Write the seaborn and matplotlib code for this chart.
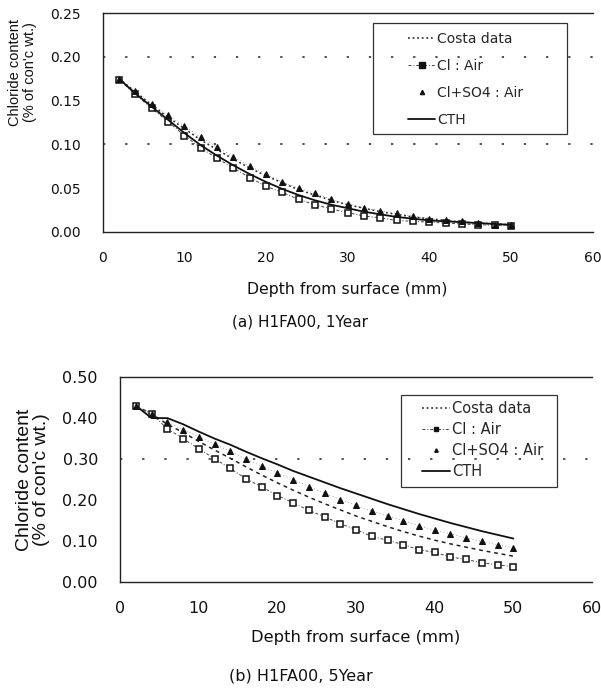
import matplotlib
matplotlib.use("Agg")
import matplotlib.pyplot as plt
from matplotlib.lines import Line2D
from matplotlib.patches import Rectangle
import seaborn as sns

# ---- data ----
depth = [2, 4, 6, 8, 10, 12, 14, 16, 18, 20, 22, 24, 26, 28, 30, 32, 34, 36, 38, 40, 42, 44, 46, 48, 50]

# (a) 1 year
costa_1y = [0.175, 0.160, 0.145, 0.131, 0.118, 0.105, 0.094, 0.083, 0.073, 0.064, 0.056, 0.048, 0.042,
            0.036, 0.031, 0.027, 0.023, 0.020, 0.017, 0.015, 0.013, 0.011, 0.010, 0.009, 0.008]
cl_air_1y = [0.174, 0.157, 0.141, 0.126, 0.110, 0.096, 0.084, 0.073, 0.062, 0.052, 0.045, 0.037, 0.031,
             0.026, 0.022, 0.018, 0.016, 0.013, 0.012, 0.011, 0.010, 0.009, 0.008, 0.0076, 0.007]
clso4_air_1y = [0.175, 0.161, 0.146, 0.133, 0.121, 0.108, 0.097, 0.086, 0.075, 0.066, 0.057, 0.050, 0.044,
                0.037, 0.032, 0.027, 0.024, 0.021, 0.018, 0.015, 0.013, 0.012, 0.010, 0.008, 0.008]
cth_1y = [0.175, 0.158, 0.143, 0.128, 0.113, 0.099, 0.087, 0.076, 0.066, 0.057, 0.049, 0.042, 0.036,
          0.031, 0.027, 0.023, 0.020, 0.017, 0.015, 0.013, 0.012, 0.011, 0.010, 0.009, 0.008]

# (b) 5 year
costa_5y = [0.430, 0.410, 0.385, 0.365, 0.343, 0.322, 0.302, 0.281, 0.261, 0.242, 0.224, 0.207, 0.191,
            0.176, 0.161, 0.148, 0.135, 0.123, 0.112, 0.102, 0.093, 0.085, 0.077, 0.070, 0.063]
cl_air_5y = [0.430, 0.410, 0.374, 0.350, 0.325, 0.301, 0.277, 0.252, 0.232, 0.211, 0.193, 0.175, 0.159,
             0.142, 0.128, 0.111, 0.102, 0.091, 0.079, 0.072, 0.061, 0.055, 0.047, 0.042, 0.037]
clso4_air_5y = [0.430, 0.410, 0.390, 0.372, 0.355, 0.336, 0.319, 0.299, 0.283, 0.266, 0.250, 0.233, 0.217,
                0.201, 0.187, 0.173, 0.161, 0.150, 0.137, 0.126, 0.118, 0.107, 0.099, 0.091, 0.083]
cth_5y = [0.430, 0.400, 0.400, 0.385, 0.367, 0.350, 0.335, 0.318, 0.302, 0.287, 0.271, 0.257, 0.243,
          0.229, 0.216, 0.203, 0.190, 0.178, 0.166, 0.155, 0.144, 0.134, 0.124, 0.115, 0.106]

labels = ["Costa data", "Cl : Air", "Cl+SO4 : Air", "CTH"]
x_ticks = [0, 10, 20, 30, 40, 50, 60]
y_ticks_a = [0.00, 0.05, 0.10, 0.15, 0.20, 0.25]
y_ticks_b = [0.00, 0.10, 0.20, 0.30, 0.40, 0.50]

sns.set_theme(style="white")
plt.rcParams['font.family'] = ['DejaVu Sans']

INK = "#111111"
fig = plt.figure(figsize=(6.01, 6.92), dpi=100)
ax1 = fig.add_axes([0.171, 0.665, 0.815, 0.316])
ax2 = fig.add_axes([0.200, 0.159, 0.785, 0.296])


def draw(ax, costa, clair, clso4, cth, fs, ms, grid_lines, yticks, ylim, costa_ls):
    for yv in grid_lines:
        ax.axhline(yv, color="#222222", lw=1.1, ls=(0, (1.5, 13)), zorder=0)
    sns.lineplot(x=depth, y=costa, ax=ax, color="#222222", lw=1.1, ls=costa_ls, legend=False)
    sns.lineplot(x=depth, y=clair, ax=ax, color="#444444", lw=0.7, ls=(0, (3, 2, 1, 2)),
                 marker="s", markersize=ms, markerfacecolor="white", markeredgecolor=INK,
                 markeredgewidth=1.1, legend=False)
    sns.lineplot(x=depth, y=clso4, ax=ax, color="#888888", lw=0.6, ls=(0, (1, 3)),
                 marker="^", markersize=ms, markerfacecolor=INK, markeredgecolor=INK,
                 legend=False)
    sns.lineplot(x=depth, y=cth, ax=ax, color=INK, lw=1.3, ls="-", legend=False)
    ax.set_xlim(0, 60)
    ax.set_ylim(*ylim)
    ax.set_xticks(x_ticks)
    ax.set_yticks(yticks)
    ax.set_yticklabels(["{:.2f}".format(v) for v in yticks])
    ax.tick_params(axis="both", labelsize=fs, length=0, colors=INK)
    ax.tick_params(axis="y", pad=16)
    ax.tick_params(axis="x", pad=14)
    for s in ["left", "bottom", "top"]:
        ax.spines[s].set_color("#222222")
        ax.spines[s].set_linewidth(1.0)
    ax.spines["right"].set_visible(False)


def make_legend(ax, fs, ms, costa_ls, anchor, spacing, rect):
    handles = [
        Line2D([], [], color="#222222", lw=1.1, ls=costa_ls),
        Line2D([], [], color="#444444", lw=0.7, ls=(0, (3, 2, 1, 2)), marker="s",
               markersize=ms, markerfacecolor=INK, markeredgecolor=INK),
        Line2D([], [], color="none", marker="^", markersize=ms - 1,
               markerfacecolor=INK, markeredgecolor=INK),
        Line2D([], [], color=INK, lw=1.3),
    ]
    leg = ax.legend(handles, labels, loc="upper left", bbox_to_anchor=anchor, fontsize=fs,
                    frameon=False, handlelength=1.9, handletextpad=0.15,
                    labelspacing=spacing, borderpad=0, borderaxespad=0)
    x0, y0, x1, y1 = rect
    ax.add_patch(Rectangle((x0, y0), x1 - x0, y1 - y0, transform=ax.transAxes,
                           fill=False, edgecolor="#333333", lw=0.9, zorder=5, clip_on=False))
    return leg


draw(ax1, costa_1y, cl_air_1y, clso4_air_1y, cth_1y, 10, 5, [0.10, 0.20], y_ticks_a, (0, 0.25),
     (0, (1.2, 1.8)))
draw(ax2, costa_5y, cl_air_5y, clso4_air_5y, cth_5y, 11.5, 4, [0.30], y_ticks_b, (0, 0.50),
     (0, (2.5, 2.5)))

make_legend(ax1, 10, 4, (0, (1.2, 1.8)), (0.624, 0.915), 0.95, (0.551, 0.447, 0.947, 0.954))
make_legend(ax2, 10.5, 3.5, (0, (1.2, 1.8)), (0.640, 0.885), 0.42, (0.595, 0.463, 0.925, 0.912))

ax1.set_ylabel("Chloride content\n(% of con'c wt.)", fontsize=10.5, color=INK,
               linespacing=1.05, family=['Liberation Sans'])
ax1.yaxis.set_label_coords(-0.135, 0.73)
ax1.set_xlabel("Depth from surface (mm)", fontsize=11.3, color=INK, labelpad=12)
ax2.set_ylabel("Chloride content\n(% of con'c wt.)", fontsize=14, color=INK,
               linespacing=1.05, family=['Liberation Sans'])
ax2.yaxis.set_label_coords(-0.148, 0.5)
ax2.set_xlabel("Depth from surface (mm)", fontsize=11.8, color=INK, labelpad=10)

fig.text(0.5, 1 - 322 / 692, "(a) H1FA00, 1Year", ha="center", va="center",
         fontsize=11, color=INK)
fig.text(0.5, 1 - 676 / 692, "(b) H1FA00, 5Year", ha="center", va="center",
         fontsize=11.5, color=INK)

fig.savefig("out.png", dpi=100)
